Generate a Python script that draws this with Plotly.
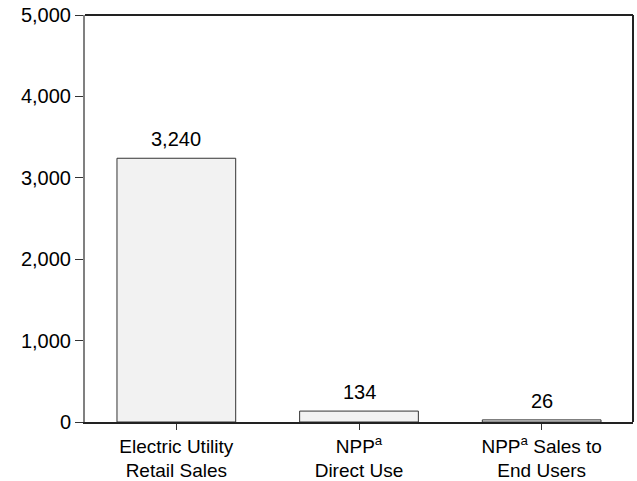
import plotly.graph_objects as go

categories = ["Electric Utility<br>Retail Sales", "NPP<sup>a</sup><br>Direct Use", "NPP<sup>a</sup> Sales to<br>End Users"]
values = [3240, 134, 26]
value_labels = ["3,240", "134", "26"]
y_ticks = [0, 1000, 2000, 3000, 4000, 5000]
y_tick_labels = ["0", "1,000", "2,000", "3,000", "4,000", "5,000"]

fig = go.Figure()
fig.add_trace(go.Bar(
    x=categories, y=values,
    marker=dict(color="#f2f2f2", line=dict(color="#333333", width=1)),
))

# value labels above the bars
for cat, val, lab in zip(categories, values, value_labels):
    fig.add_annotation(x=cat, y=val, text=lab, showarrow=False,
                       yanchor="bottom", yshift=6, font=dict(size=20))

fig.update_layout(
    width=637, height=481,
    margin=dict(l=85, r=4, t=15, b=59),
    plot_bgcolor="white", paper_bgcolor="white",
    font=dict(family="Liberation Sans, Arial", size=20, color="black"),
    bargap=0.35, showlegend=False,
)
fig.update_yaxes(
    range=[0, 5000], tickvals=y_ticks, ticktext=y_tick_labels,
    showgrid=False, zeroline=False, automargin=False,
    showline=True, linecolor="#808080", linewidth=2,
    ticks="outside", ticklen=8, tickcolor="#333333",
)
fig.update_xaxes(
    showgrid=False, automargin=False, showline=True,
    linecolor="#222222", linewidth=1.5,
    ticks="outside", ticklen=6, tickcolor="#333333",
    tickfont=dict(size=19),
)
# top and right border of the frame
fig.add_shape(type="line", xref="paper", yref="paper", x0=0, x1=1, y0=1, y1=1,
              line=dict(color="#222222", width=2))
fig.add_shape(type="line", xref="paper", yref="paper", x0=1, x1=1, y0=0, y1=1,
              line=dict(color="#222222", width=2))

# drop the default 8px page margin so the figure fills the window
fig.write_html("out.html", config={"displayModeBar": False},
               post_script="document.body.style.margin='0px';")
